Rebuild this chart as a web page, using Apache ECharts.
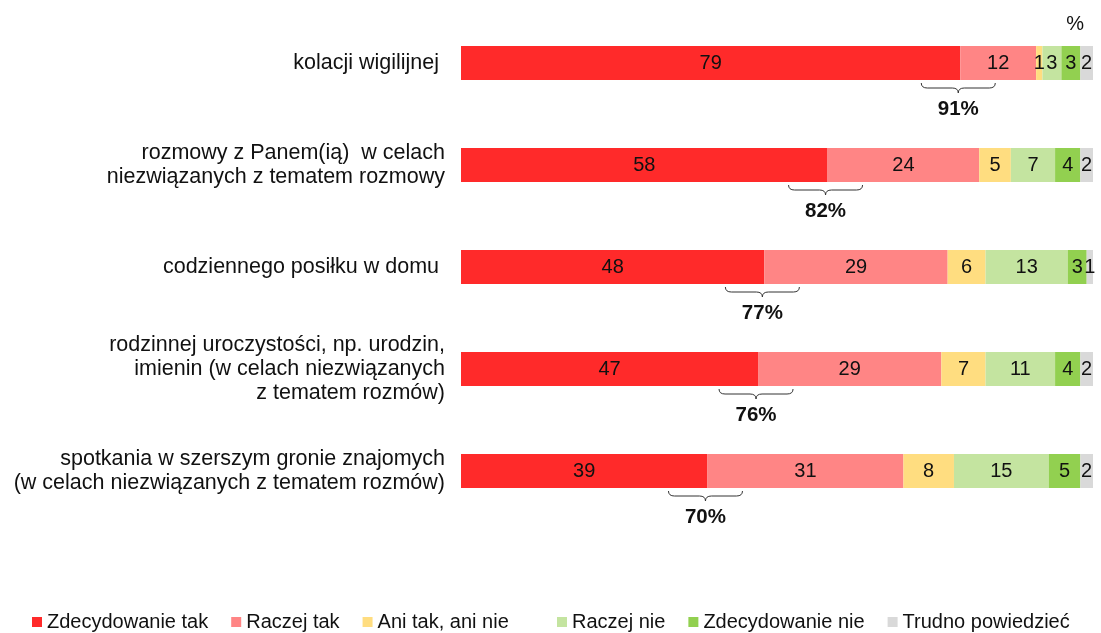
<!doctype html>
<html lang="pl">
<head>
    <meta charset="UTF-8">
    <title>Wykres</title>
    <script src="https://cdn.jsdelivr.net/npm/echarts@6/dist/echarts.min.js"></script>
    <style>
        html, body { margin: 0; padding: 0; background: #fff; }
        #chart { width: 1101px; height: 633px; }
    </style>
</head>
<body>
<div id="chart"></div>
<script>
    const categories = [
        'kolacji wigilijnej ',
        'rozmowy z Panem(ią)  w celach\nniezwiązanych z tematem rozmowy',
        'codziennego posiłku w domu ',
        'rodzinnej uroczystości, np. urodzin,\nimienin (w celach niezwiązanych\nz tematem rozmów)',
        'spotkania w szerszym gronie znajomych\n(w celach niezwiązanych z tematem rozmów)'
    ];
    const seriesNames = ['Zdecydowanie tak', 'Raczej tak', 'Ani tak, ani nie', 'Raczej nie', 'Zdecydowanie nie', 'Trudno powiedzieć'];
    const zdecydowanieTak = [79, 58, 48, 47, 39];
    const raczejTak = [12, 24, 29, 29, 31];
    const aniTakAniNie = [1, 5, 6, 7, 8];
    const raczejNie = [3, 7, 13, 11, 15];
    const zdecydowanieNie = [3, 4, 3, 4, 5];
    const trudnoPowiedziec = [2, 2, 1, 2, 2];
    const sumaTak = [91, 82, 77, 76, 70];

    const colors = ['#FF2A2A', '#FF8585', '#FFDD80', '#C4E4A0', '#92D050', '#D9D9D9'];
    const font = 'Liberation Sans, Arial, sans-serif';

    const values = [zdecydowanieTak, raczejTak, aniTakAniNie, raczejNie, zdecydowanieNie, trudnoPowiedziec];

    const barSeries = values.map((data, i) => ({
        name: seriesNames[i],
        type: 'bar',
        stack: 'all',
        barWidth: 34,
        data: data,
        itemStyle: { color: colors[i] },
        label: {
            show: true,
            position: 'inside',
            color: '#111',
            fontSize: 20,
            fontFamily: font
        },
        emphasis: { disabled: true },
        silent: true
    }));

    // klamra pod granicą "zdecydowanie tak" / "raczej tak" z sumą odpowiedzi "tak"
    const braceSeries = {
        type: 'custom',
        silent: true,
        clip: false,
        data: zdecydowanieTak.map((v, i) => [v, i, sumaTak[i]]),
        renderItem: (params, api) => {
            const p = api.coord([api.value(0), api.value(1)]);
            const c = p[0] - 2;
            const y0 = p[1] + 20;
            const y1 = p[1] + 25;
            const y2 = p[1] + 30;
            const x0 = c - 37;
            const x1 = c + 37;
            const path = `M${x0},${y0} Q${x0},${y1} ${x0 + 6},${y1} L${c - 6},${y1} Q${c},${y1} ${c},${y2} ` +
                `Q${c},${y1} ${c + 6},${y1} L${x1 - 6},${y1} Q${x1},${y1} ${x1},${y0}`;
            return {
                type: 'group',
                children: [
                    {
                        type: 'path',
                        shape: { pathData: path },
                        style: { fill: null, stroke: '#333', lineWidth: 1 }
                    },
                    {
                        type: 'text',
                        x: c,
                        y: p[1] + 46,
                        style: {
                            text: api.value(2) + '%',
                            fill: '#111',
                            font: `bold 20.5px ${font}`,
                            align: 'center',
                            verticalAlign: 'middle'
                        }
                    }
                ]
            };
        }
    };

    const legendText = { fontSize: 20, color: '#111', fontFamily: font };

    const myChart = echarts.init(document.getElementById('chart'));
    const option = {
        animation: false,
        textStyle: { fontFamily: font },
        title: {
            text: '%',
            right: 12,
            top: 9,
            textStyle: { fontSize: 20, fontWeight: 'normal', color: '#111', fontFamily: font }
        },
        grid: { left: 461, right: 8, top: 12, bottom: 111 },
        legend: [
            {
                data: seriesNames.slice(0, 3),
                left: 32,
                top: 612,
                padding: 0,
                itemWidth: 10,
                itemHeight: 10,
                itemGap: 23,
                icon: 'rect',
                textStyle: legendText,
                selectedMode: false
            },
            {
                data: seriesNames.slice(3),
                left: 557,
                top: 612,
                padding: 0,
                itemWidth: 10,
                itemHeight: 10,
                itemGap: 23,
                icon: 'rect',
                textStyle: legendText,
                selectedMode: false
            }
        ],
        xAxis: {
            type: 'value',
            min: 0,
            max: 100,
            show: false
        },
        yAxis: {
            type: 'category',
            inverse: true,
            data: categories,
            axisLine: { show: false },
            axisTick: { show: false },
            axisLabel: {
                margin: 16,
                fontSize: 21.5,
                lineHeight: 24,
                color: '#111',
                align: 'right',
                fontFamily: font
            }
        },
        series: [...barSeries, braceSeries]
    };

    myChart.setOption(option);
</script>
</body>
</html>
